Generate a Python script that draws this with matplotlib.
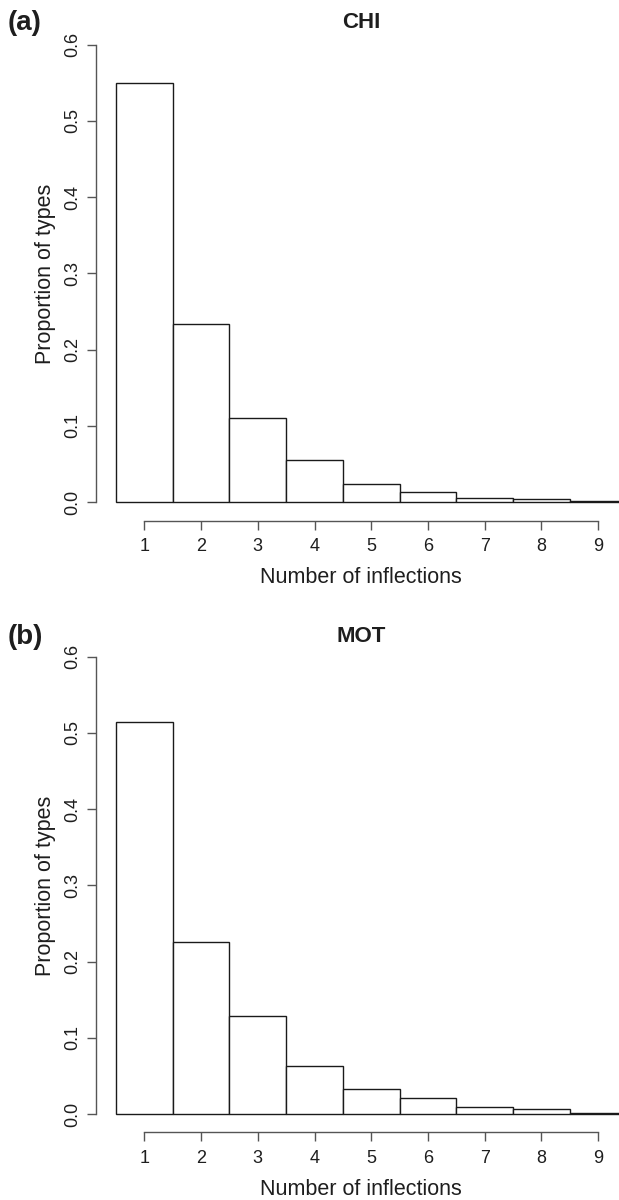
import numpy as np
import matplotlib
matplotlib.use("Agg")
import matplotlib.pyplot as plt

plt.rcParams["font.family"] = ["Liberation Sans", "DejaVu Sans"]

# number of inflections (histogram bins)
inflections = [1, 2, 3, 4, 5, 6, 7, 8, 9]

# proportion of types per bin
chi_props = [0.550, 0.234, 0.111, 0.055, 0.024, 0.014, 0.006, 0.004, 0.0015]
mot_props = [0.514, 0.226, 0.128, 0.063, 0.033, 0.021, 0.009, 0.006, 0.001]

y_ticks = [0.0, 0.1, 0.2, 0.3, 0.4, 0.5, 0.6]

W, H = 619, 1200
fig = plt.figure(figsize=(W / 100, H / 100), dpi=100)

AX_COL = "#555555"
BAR_EDGE = "#1a1a1a"
TXT = "#1e1e1e"

LEFT, RIGHT = 95.7, 626.3


def px_ax(top, bottom):
    return [LEFT / W, 1 - bottom / H, (RIGHT - LEFT) / W, (bottom - top) / H]


def draw_panel(top, bottom, props, title, letter, head_y):
    ax = fig.add_axes(px_ax(top, bottom))
    ax.bar(inflections, props, width=1.0, color="white", edgecolor=BAR_EDGE,
           linewidth=1.0, align="center")
    ax.set_xlim(0.14, 9.5)
    ax.set_ylim(-0.024, 0.624)

    for s in ["top", "right"]:
        ax.spines[s].set_visible(False)
    ax.spines["left"].set_bounds(0, 0.6)
    ax.spines["bottom"].set_bounds(1, 9)
    for s in ["left", "bottom"]:
        ax.spines[s].set_color(AX_COL)
        ax.spines[s].set_linewidth(1.0)

    ax.set_xticks(inflections)
    ax.set_xticklabels([str(i) for i in inflections])
    ax.set_yticks(y_ticks)
    ax.set_yticklabels([f"{v:.1f}" for v in y_ticks], rotation=90, va="center")
    ax.tick_params(axis="both", length=6.5, width=1.0, color=AX_COL,
                   labelsize=13, labelcolor=TXT)
    ax.tick_params(axis="x", pad=6)
    ax.tick_params(axis="y", pad=4)

    ax.set_xlabel("Number of inflections", fontsize=15.5, color=TXT,
                  labelpad=9)
    ax.set_ylabel("Proportion of types", fontsize=15.5, color=TXT,
                  labelpad=6)
    # title and panel letter sit on the same line
    fig.text((LEFT + RIGHT) / 2 / W, 1 - head_y / H, title, fontsize=16,
             fontweight="bold", ha="center", va="center", color=TXT)
    fig.text(25 / W, 1 - head_y / H, letter, fontsize=20, fontweight="bold",
             ha="center", va="center", color=TXT)
    return ax


draw_panel(26.2, 520.6, chi_props, "CHI", "(a)", 23)
draw_panel(638.5, 1132.3, mot_props, "MOT", "(b)", 637)

fig.savefig("out.png", dpi=100)
